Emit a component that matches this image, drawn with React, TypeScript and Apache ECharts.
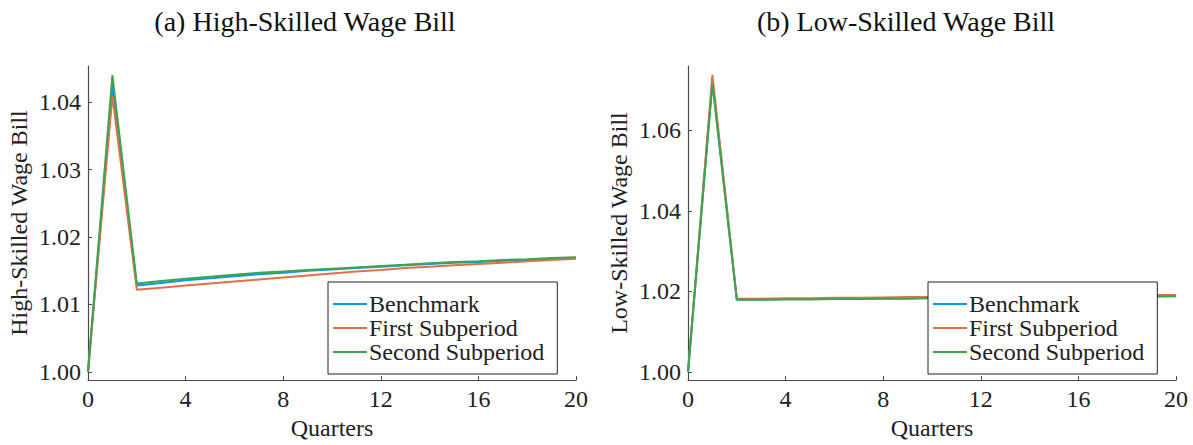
import React, { useEffect, useRef } from "react";
import * as echarts from "echarts";

const quarters = [0,1,2,3,4,5,6,7,8,9,10,11,12,13,14,15,16,17,18,19,20];
const seriesNames = ["Benchmark", "First Subperiod", "Second Subperiod"];
const colors = ["#009AFA", "#E36F47", "#3EA44E"];

// Panel (a): High-Skilled Wage Bill
const highBenchmark = [1.0000,1.0424,1.0128,1.0132,1.0136,1.0139,1.0142,1.0145,1.0147,1.0150,1.0152,1.0154,1.0156,1.0158,1.0160,1.0162,1.0163,1.0165,1.0166,1.0168,1.0169];
const highFirst     = [1.0000,1.0409,1.0122,1.0125,1.0128,1.0131,1.0134,1.0137,1.0140,1.0143,1.0146,1.0149,1.0151,1.0154,1.0156,1.0158,1.0160,1.0162,1.0164,1.0166,1.0168];
const highSecond    = [1.0000,1.0440,1.0131,1.0135,1.0138,1.0141,1.0144,1.0147,1.0149,1.0151,1.0153,1.0155,1.0157,1.0159,1.0161,1.0163,1.0164,1.0166,1.0167,1.0169,1.0170];

// Panel (b): Low-Skilled Wage Bill
const lowBenchmark = [1.0000,1.0722,1.0180,1.0180,1.0181,1.0181,1.0182,1.0182,1.0183,1.0183,1.0184,1.0184,1.0185,1.0185,1.0186,1.0186,1.0187,1.0187,1.0188,1.0188,1.0189];
const lowFirst     = [1.0000,1.0737,1.0182,1.0182,1.0183,1.0183,1.0184,1.0184,1.0185,1.0186,1.0186,1.0187,1.0187,1.0188,1.0188,1.0189,1.0189,1.0190,1.0190,1.0191,1.0191];
const lowSecond    = [1.0000,1.0716,1.0179,1.0179,1.0180,1.0180,1.0181,1.0181,1.0182,1.0182,1.0183,1.0183,1.0184,1.0184,1.0185,1.0185,1.0186,1.0186,1.0187,1.0187,1.0188];

const highTicks = [1.00, 1.01, 1.02, 1.03, 1.04];
const lowTicks = [1.00, 1.02, 1.04, 1.06];
const xTicks = [0, 4, 8, 12, 16, 20];

const FONT = "Liberation Serif";
const AXIS_COLOR = "#4a4a4a";
const TEXT_COLOR = "#222";

function App() {
  const ref = useRef<HTMLDivElement>(null);
  useEffect(() => {
    if (!ref.current) return;
    const chart = echarts.init(ref.current, undefined, { renderer: "svg" });

    const pair = (ys: number[]) => quarters.map((q, i) => [q, ys[i]]);
    const txt = { fontFamily: FONT, fontSize: 24, color: TEXT_COLOR, fontWeight: "normal" as const };

    const makeX = (gridIndex: number) => ({
      type: "value" as const,
      gridIndex,
      min: 0,
      max: 20,
      interval: 4,
      name: "Quarters",
      nameLocation: "middle" as const,
      nameGap: 34,
      nameTextStyle: { ...txt },
      axisLine: { onZero: false, lineStyle: { color: AXIS_COLOR, width: 1.2 } },
      axisTick: { inside: true, length: 4, lineStyle: { color: AXIS_COLOR }, customValues: xTicks },
      axisLabel: { ...txt, margin: 7, customValues: xTicks },
      splitLine: { show: false },
    });

    const makeY = (gridIndex: number, min: number, max: number, ticks: number[], name: string) => ({
      type: "value" as const,
      gridIndex,
      min,
      max,
      name,
      nameLocation: "middle" as const,
      nameGap: 57,
      nameTextStyle: { ...txt },
      axisLine: { show: true, lineStyle: { color: AXIS_COLOR, width: 1.2 } },
      axisTick: { show: true, inside: true, length: 4, lineStyle: { color: AXIS_COLOR }, customValues: ticks },
      axisLabel: {
        ...txt, margin: 7,
        customValues: ticks,
        formatter: (v: number) => v.toFixed(2),
      },
      splitLine: { show: false },
    });

    const makeLegend = (left: number) => ({
      orient: "vertical" as const,
      left,
      top: 282,
      data: seriesNames,
      icon: "rect",
      itemWidth: 34,
      itemHeight: 2,
      itemGap: 0,
      padding: [10, 13, 10, 5],
      backgroundColor: "#fff",
      borderColor: "#222",
      borderWidth: 1,
      borderRadius: 0,
      selectedMode: false,
      textStyle: { ...txt, lineHeight: 23.5, padding: [0, 0, 0, -3] },
    });

    const lineSeries = (name: string, data: number[], color: string, idx: number) => ({
      name,
      type: "line" as const,
      xAxisIndex: idx,
      yAxisIndex: idx,
      data: pair(data),
      symbol: "none",
      lineStyle: { color, width: 2 },
      itemStyle: { color },
      z: 2,
    });

    chart.setOption({
      animation: false,
      backgroundColor: "#fff",
      textStyle: { fontFamily: FONT },
      grid: [
        { left: 88, right: 617, top: 66, bottom: 60 },
        { left: 688, right: 17, top: 66, bottom: 60 },
      ],
      xAxis: [makeX(0), makeX(1)],
      yAxis: [
        makeY(0, 0.99879, 1.04536, highTicks, "High-Skilled Wage Bill"),
        makeY(1, 0.998, 1.0759, lowTicks, "Low-Skilled Wage Bill"),
      ],
      legend: [makeLegend(328), makeLegend(928)],
      series: [
        lineSeries(seriesNames[0], highBenchmark, colors[0], 0),
        lineSeries(seriesNames[1], highFirst, colors[1], 0),
        lineSeries(seriesNames[2], highSecond, colors[2], 0),
        lineSeries(seriesNames[0], lowBenchmark, colors[0], 1),
        lineSeries(seriesNames[1], lowFirst, colors[1], 1),
        lineSeries(seriesNames[2], lowSecond, colors[2], 1),
      ],
      graphic: [
        {
          type: "text", x: 305, y: 21,
          style: { text: "(a) High-Skilled Wage Bill", fontFamily: FONT, fontSize: 28, fill: "#111", textAlign: "center", textVerticalAlign: "middle" },
        },
        {
          type: "text", x: 906, y: 21,
          style: { text: "(b) Low-Skilled Wage Bill", fontFamily: FONT, fontSize: 28, fill: "#111", textAlign: "center", textVerticalAlign: "middle" },
        },
      ],
    });

    return () => chart.dispose();
  }, []);

  return <div ref={ref} style={{ position: "absolute", left: 0, top: 0, width: 1193, height: 445 }} />;
}

export default App;
